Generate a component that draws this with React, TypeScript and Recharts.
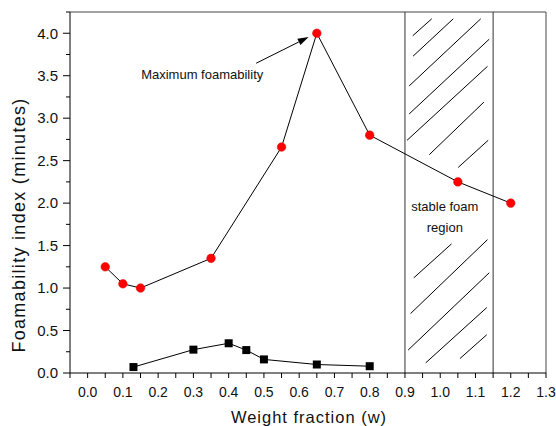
import React from "react";
import { Label, Line, LineChart, ReferenceDot, ReferenceLine, XAxis, YAxis } from "recharts";

// upper (red) series: foamability index vs weight fraction
const foamWeights = [0.05, 0.1, 0.15, 0.35, 0.55, 0.65, 0.8, 1.05, 1.2];
const foamIndex = [1.25, 1.05, 1.0, 1.35, 2.66, 4.0, 2.8, 2.25, 2.0];

// lower (black) series
const lowWeights = [0.13, 0.3, 0.4, 0.45, 0.5, 0.65, 0.8];
const lowIndex = [0.07, 0.275, 0.35, 0.27, 0.16, 0.1, 0.08];

const xMajorTicks = [0.0, 0.1, 0.2, 0.3, 0.4, 0.5, 0.6, 0.7, 0.8, 0.9, 1.0, 1.1, 1.2, 1.3];
const xMinorTicks = [-0.05, 0.05, 0.15, 0.25, 0.35, 0.45, 0.55, 0.65, 0.75, 0.85, 0.95, 1.05, 1.15, 1.25];
const yMajorTicks = [0.0, 0.5, 1.0, 1.5, 2.0, 2.5, 3.0, 3.5, 4.0];
const yMinorTicks = [0.25, 0.75, 1.25, 1.75, 2.25, 2.75, 3.25, 3.75, 4.25];

// stable foam region bounds
const regionStart = 0.9;
const regionEnd = 1.15;

// hatch strokes inside the stable foam region (data coordinates)
const hatchSegments = [
  [0.922, 3.97, 0.976, 4.17],
  [0.923, 3.73, 1.037, 4.17],
  [0.912, 3.38, 1.115, 4.17],
  [0.912, 3.05, 1.139, 3.93],
  [0.906, 2.74, 1.134, 3.61],
  [0.969, 2.57, 1.124, 3.19],
  [1.051, 2.42, 1.136, 2.74],
  [0.925, 1.12, 1.032, 1.52],
  [0.916, 0.7, 1.134, 1.57],
  [0.909, 0.27, 1.139, 1.18],
  [0.959, 0.12, 1.132, 0.77],
  [1.056, 0.17, 1.132, 0.45],
];

const foamData = foamWeights.map((x, i) => ({ x, y: foamIndex[i] }));
const lowData = lowWeights.map((x, i) => ({ x, y: lowIndex[i] }));

const FONT = "'Liberation Sans', Arial, sans-serif";

const XTick = (props: any) => {
  const { x, y, payload } = props;
  const major = xMajorTicks.includes(payload.value);
  return (
    <g>
      <line x1={x} x2={x} y1={y} y2={y + 5} stroke="#000" />
      {major && (
        <text x={x} y={y + 24} textAnchor="middle" fontSize={14} fill="#111" fontFamily={FONT}>
          {payload.value.toFixed(1)}
        </text>
      )}
    </g>
  );
};

const YTick = (props: any) => {
  const { x, y, payload } = props;
  const major = yMajorTicks.includes(payload.value);
  return (
    <g>
      <line x1={x - (major ? 7 : 4)} x2={x} y1={y} y2={y} stroke="#000" />
      {major && (
        <text x={x - 12} y={y + 5.3} textAnchor="end" fontSize={15} fill="#111" fontFamily={FONT}>
          {payload.value.toFixed(1)}
        </text>
      )}
    </g>
  );
};

const Square = (props: any) => {
  const { cx, cy } = props;
  return <rect x={cx - 4} y={cy - 4} width={8} height={8} fill="#000" />;
};

const Arrow = (props: any) => {
  const { x1, y1, x2, y2 } = props;
  const a = Math.atan2(y2 - y1, x2 - x1);
  const len = 11;
  const w = 3.5;
  const bx = x2 - len * Math.cos(a);
  const by = y2 - len * Math.sin(a);
  const px = -Math.sin(a) * w;
  const py = Math.cos(a) * w;
  return (
    <g>
      <line x1={x1} y1={y1} x2={bx} y2={by} stroke="#000" strokeWidth={1} />
      <polygon points={`${x2},${y2} ${bx + px},${by + py} ${bx - px},${by - py}`} fill="#000" />
    </g>
  );
};

const YTitle = () => (
  <text
    x={19}
    y={225}
    transform="rotate(-90, 19, 225)"
    textAnchor="middle"
    dominantBaseline="central"
    fontSize={18}
    letterSpacing={1.3}
    fill="#111"
    fontFamily={FONT}
  >
    Foamability index (minutes)
  </text>
);

const XTitle = () => (
  <text x={309} y={423} textAnchor="middle" fontSize={16.5} letterSpacing={1} fill="#111" fontFamily={FONT}>
    Weight fraction (w)
  </text>
);

export default function App() {
  return (
    <div style={{ position: "absolute", left: 0, top: 0, width: 556, height: 426, background: "#fff", fontFamily: FONT }}>
      <LineChart width={556} height={426} margin={{ top: 12, right: 10, bottom: 0, left: 0 }}>
        <XAxis
          dataKey="x"
          type="number"
          domain={[-0.05, 1.3]}
          allowDataOverflow
          ticks={[...xMinorTicks, ...xMajorTicks]}
          interval={0}
          tick={XTick}
          tickLine={false}
          tickSize={0}
          tickMargin={0}
          axisLine={{ stroke: "#000" }}
          height={53}
          label={<Label content={XTitle} />}
        />
        <YAxis
          dataKey="y"
          type="number"
          domain={[0, 4.25]}
          allowDataOverflow
          ticks={[...yMajorTicks, ...yMinorTicks]}
          interval={0}
          tick={YTick}
          tickLine={false}
          tickSize={0}
          tickMargin={0}
          axisLine={{ stroke: "#000" }}
          width={70}
          label={<Label content={YTitle} />}
        />
        <ReferenceLine y={4.25} stroke="#444" />
        <ReferenceLine x={1.3} stroke="#444" />
        <ReferenceLine x={regionStart} stroke="#333" />
        <ReferenceLine x={regionEnd} stroke="#333" />
        {hatchSegments.map((s, i) => (
          <ReferenceLine
            key={i}
            segment={[
              { x: s[0], y: s[1] },
              { x: s[2], y: s[3] },
            ]}
            stroke="#000"
            strokeWidth={1}
          />
        ))}
        <ReferenceLine
          segment={[
            { x: 0.478, y: 3.647 },
            { x: 0.627, y: 3.955 },
          ]}
          shape={Arrow}
        />
        <ReferenceDot
          x={0.325}
          y={3.52}
          r={0}
          fill="none"
          stroke="none"
          label={{ value: "Maximum foamability", position: "center", fontSize: 13, fill: "#111", fontFamily: FONT }}
        />
        <ReferenceDot
          x={1.013}
          y={1.96}
          r={0}
          fill="none"
          stroke="none"
          label={{ value: "stable foam", position: "center", fontSize: 13, fill: "#111", fontFamily: FONT }}
        />
        <ReferenceDot
          x={1.013}
          y={1.72}
          r={0}
          fill="none"
          stroke="none"
          label={{ value: "region", position: "center", fontSize: 13, fill: "#111", fontFamily: FONT }}
        />
        <Line
          data={foamData}
          dataKey="y"
          type="linear"
          stroke="#000"
          strokeWidth={1}
          dot={{ r: 4.3, fill: "#f00", stroke: "#d00", strokeWidth: 0.5 }}
          isAnimationActive={false}
        />
        <Line
          data={lowData}
          dataKey="y"
          type="linear"
          stroke="#000"
          strokeWidth={1}
          dot={<Square />}
          isAnimationActive={false}
        />
      </LineChart>
    </div>
  );
}
